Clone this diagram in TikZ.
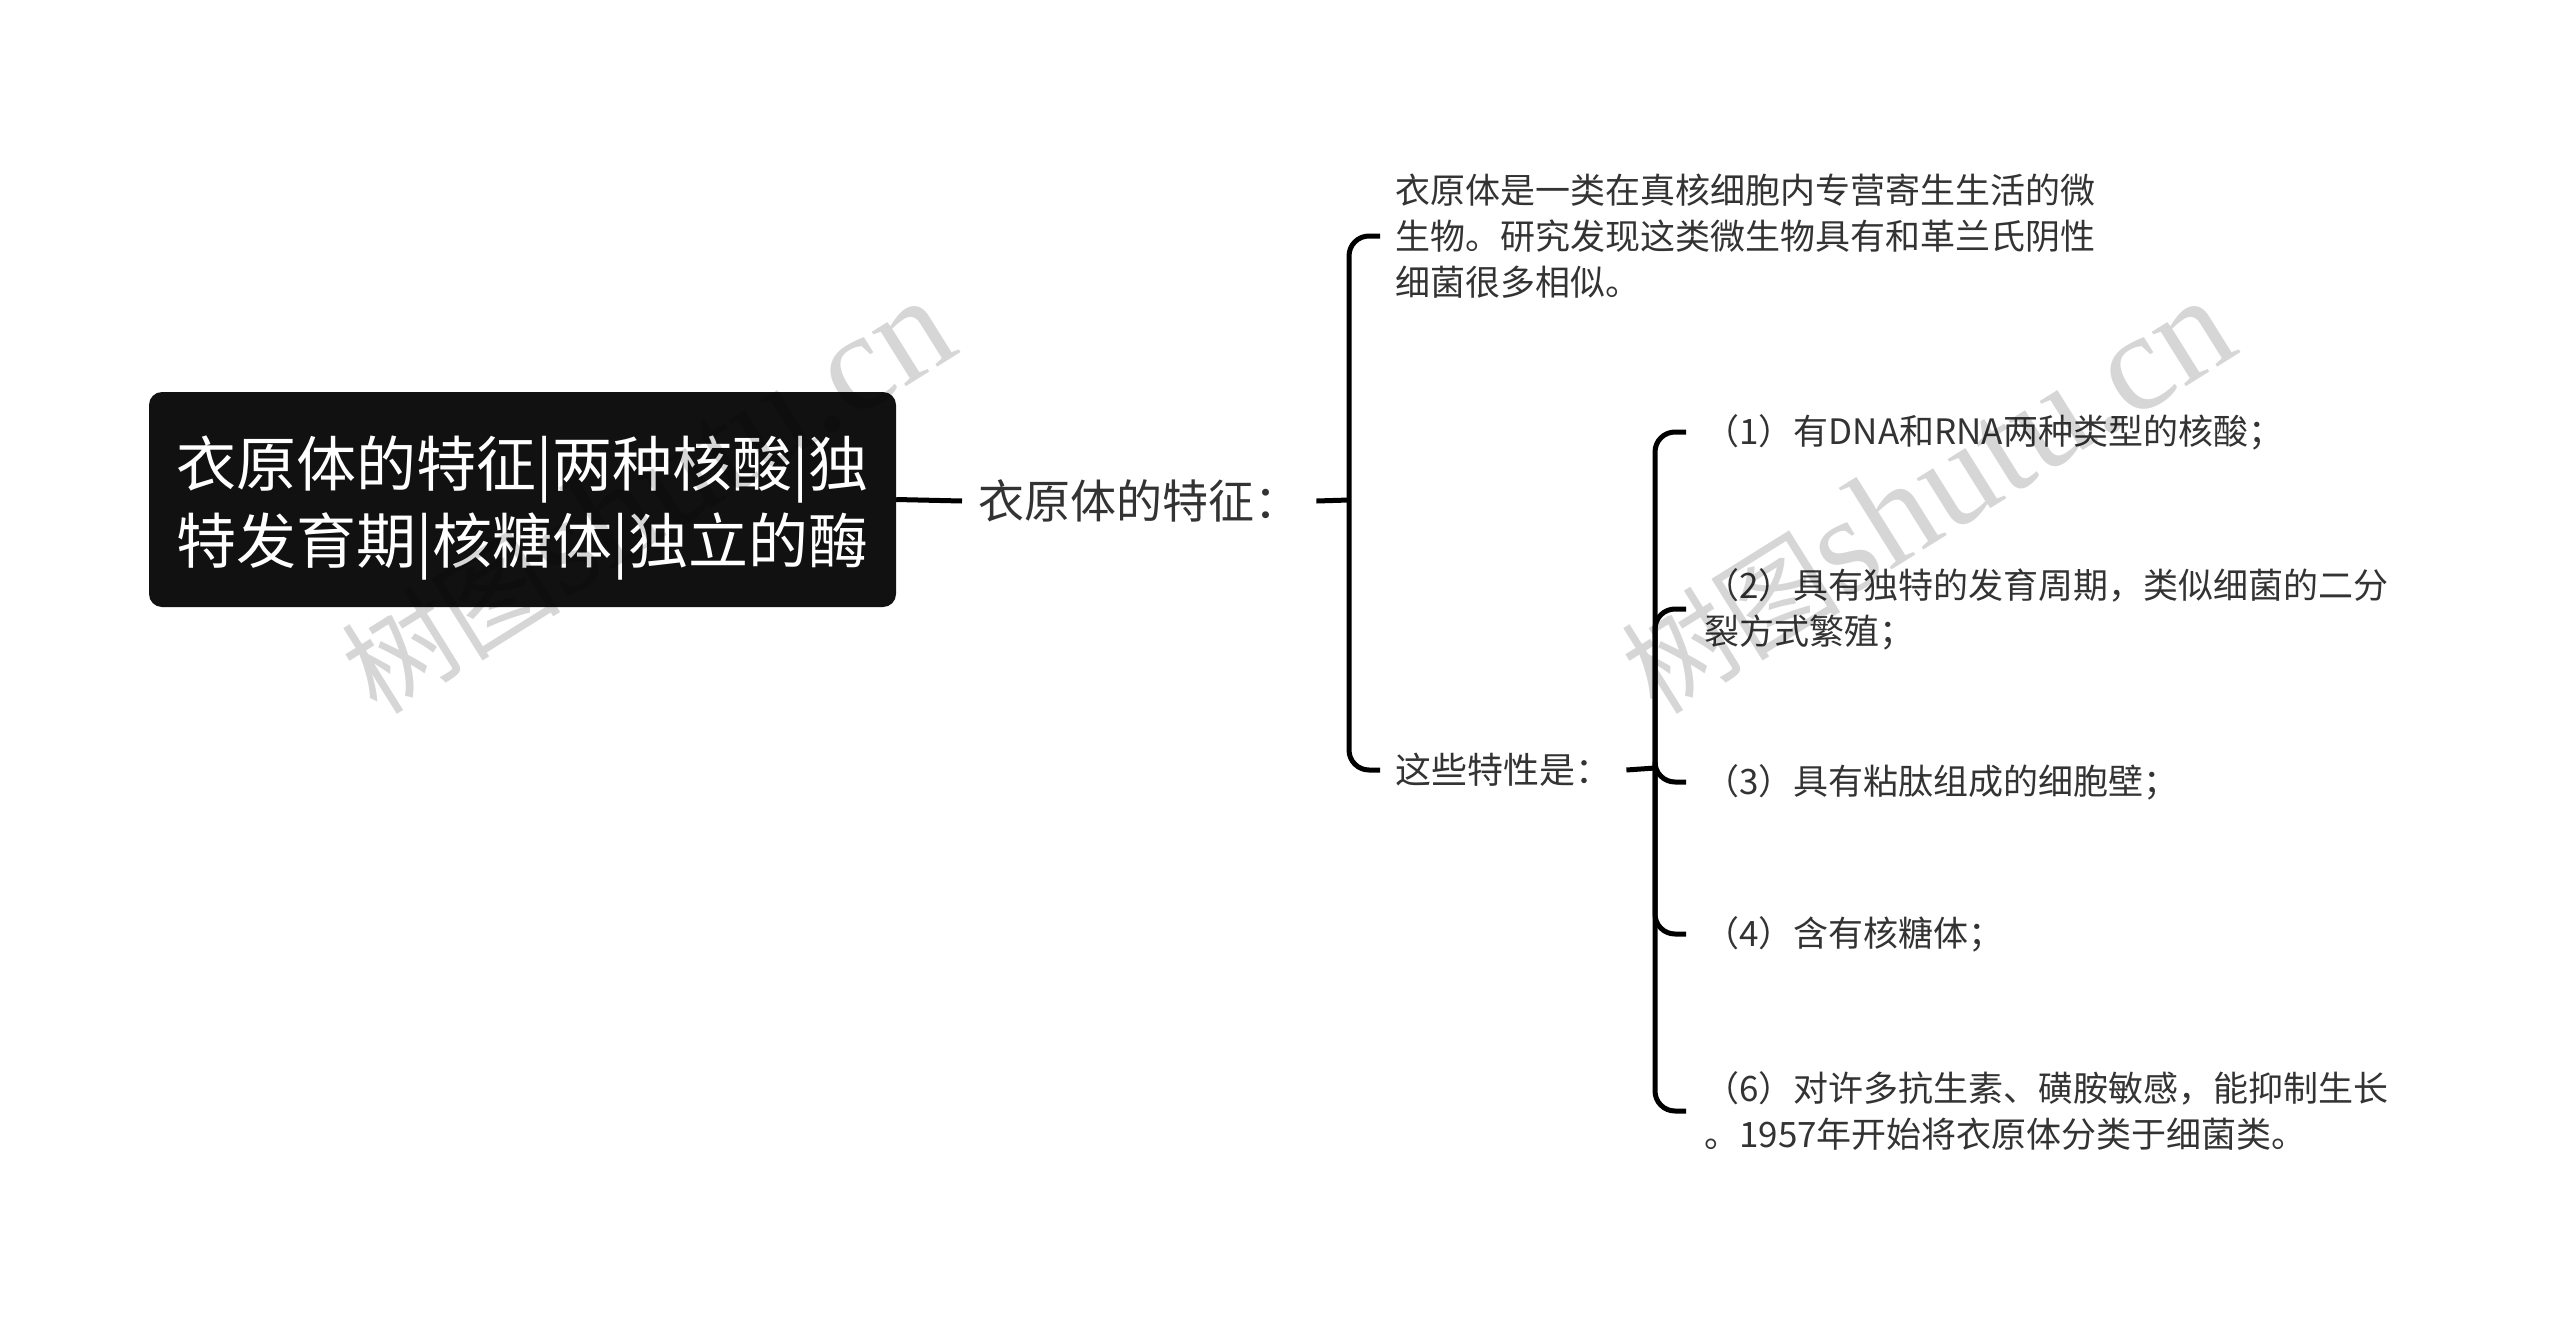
\documentclass[tikz,border=0pt]{standalone}
\usepackage{fontspec}
\setmainfont{Noto Sans CJK SC}
\newfontfamily\wmlatin{Liberation Serif}
\definecolor{rootfill}{HTML}{111111}
\definecolor{txt}{HTML}{333333}

\begin{document}
\begin{tikzpicture}[x=1pt, y=-1pt,
    topic/.style={fill=rootfill, text=white, rounded corners=13pt, align=center,
      minimum width=747pt, minimum height=215pt, font=\fontsize{60}{77}\selectfont},
    sub/.style={text=txt, inner xsep=16pt, anchor=west, font=\fontsize{46}{58}\selectfont},
    leaf/.style={text=txt, inner xsep=18pt, align=left, anchor=west, font=\fontsize{35}{46}\selectfont},
    link/.style={line width=5pt},
    branch/.style={line width=5pt, rounded corners=20pt},
    wmark/.style={black, opacity=0.16, rotate=32, anchor=base west, inner sep=0pt}]

% canvas
\useasboundingbox (0,0) rectangle (2560,1317);

% Root topic
\node[topic] (root) at (522.5,499.5) {\rule{0pt}{67pt}衣原体的特征|两种核酸|独\\特发育期|核糖体|独立的酶};

% First level
\node[sub] (feat) at (962,501) {衣原体的特征：};
\draw[link] (root.east) -- (feat.west);

% Intro and traits
\coordinate (j1) at (1349,500);
\draw[link] (feat.east) -- (j1);
\node[leaf, inner xsep=15pt] (intro) at (1380,236)
    {衣原体是一类在真核细胞内专营寄生生活的微\\生物。研究发现这类微生物具有和革兰氏阴性\\细菌很多相似。};
\node[leaf, inner xsep=15pt, font=\fontsize{36}{46}\selectfont] (traits) at (1380,770) {这些特性是：};
\draw[branch] (j1) |- (intro.west);
\draw[branch] (j1) |- (traits.west);

% Trait list
\coordinate (j2) at (1655,768);
\draw[link] (traits.east) -- (j2);
\node[leaf] (t1) at (1686,432) {（1）有DNA和RNA两种类型的核酸；};
\node[leaf] (t2) at (1686,609) {（2）具有独特的发育周期，类似细菌的二分\\裂方式繁殖；};
\node[leaf] (t3) at (1686,782) {（3）具有粘肽组成的细胞壁；};
\node[leaf] (t4) at (1686,934) {（4）含有核糖体；};
\node[leaf] (t6) at (1686,1111) {（6）对许多抗生素、磺胺敏感，能抑制生长\\。1957年开始将衣原体分类于细菌类。};
\foreach \t in {t1,t2,t3,t4,t6}
  \draw[branch] (j2) |- (\t.west);

% Watermarks
\foreach \wx in {377,1657}
  \node[wmark] at (\wx,717) {\fontsize{110}{110}\selectfont 树图\wmlatin\fontsize{140}{140}\selectfont shutu.cn};
\end{tikzpicture}
\end{document}
